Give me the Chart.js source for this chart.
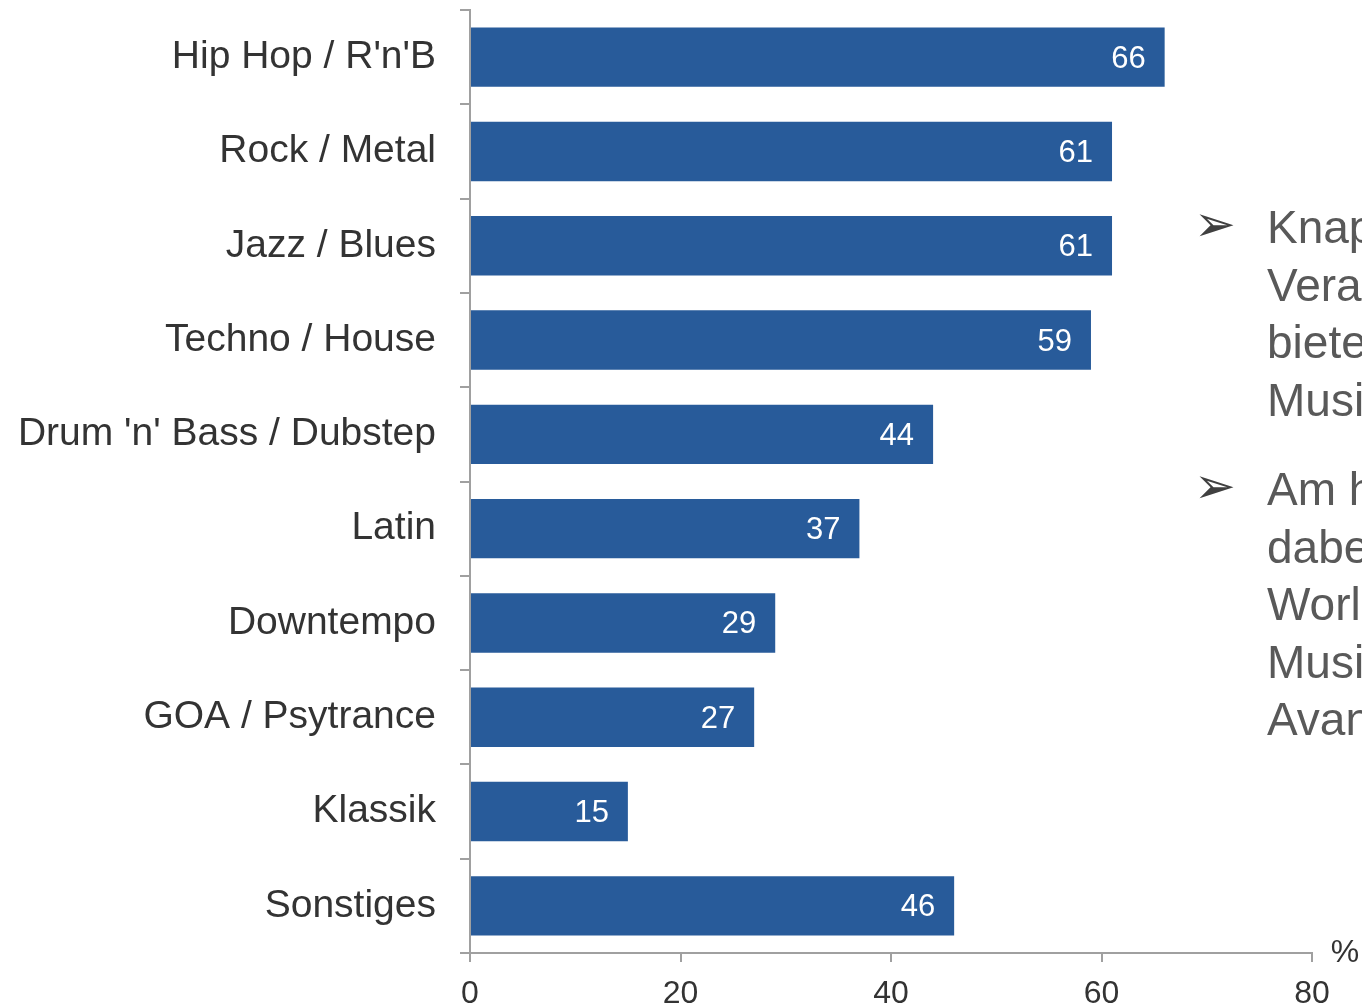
<!DOCTYPE html>
<html lang="de">
<head>
<meta charset="utf-8">
<title>Musikrichtungen</title>
<script src="https://cdn.jsdelivr.net/npm/chart.js@4/dist/chart.umd.min.js"></script>
<style>
  html, body { margin: 0; padding: 0; background: #fff; overflow: hidden; }
  #wrap { position: relative; width: 1362px; height: 1006px; overflow: hidden; }
  #genreChart { position: absolute; left: 0; top: 0; }
  .note { position: absolute; left: 1198px; font-family: "Liberation Sans", Arial, sans-serif;
          font-size: 46px; line-height: 57.5px; color: #595959; white-space: nowrap; }
  .note .arrow { position: absolute; left: -4px; top: -3px; font-family: "DejaVu Sans", sans-serif;
                 font-size: 50px; color: #404040; }
  .note .txt { position: absolute; left: 69px; top: 0; }
</style>
</head>
<body>
<div id="wrap">
  <canvas id="genreChart" width="1362" height="1006"></canvas>
  <div class="note" style="top:199px"><span class="arrow">➢</span><span class="txt">Knapp die Hälfte der<br>Veranstalter<br>bieten elektronische<br>Musik an</span></div>
  <div class="note" style="top:461px"><span class="arrow">➢</span><span class="txt">Am häufigsten sind<br>dabei Genres wie<br>World Music,<br>Musical und<br>Avantgarde</span></div>
</div>
<script>
// Musikrichtungen in %
const genres = [
  "Hip Hop / R'n'B",
  "Rock / Metal",
  "Jazz / Blues",
  "Techno / House",
  "Drum 'n' Bass / Dubstep",
  "Latin",
  "Downtempo",
  "GOA / Psytrance",
  "Klassik",
  "Sonstiges"
];
const shares = [66, 61, 61, 59, 44, 37, 29, 27, 15, 46];
const xTicks = [0, 20, 40, 60, 80];

const barColor = "#285B9A";
const axisColor = "#a0a0a0";
const textColor = "#333333";
const fontFamily = "'Liberation Sans', Arial, sans-serif";

// Werte weiß ins Balkenende schreiben, dazu das %-Zeichen an der x-Achse
const valueLabels = {
  id: "valueLabels",
  afterDatasetsDraw(chart) {
    const ctx = chart.ctx;
    const meta = chart.getDatasetMeta(0);
    ctx.save();
    ctx.font = "31px " + fontFamily;
    ctx.fillStyle = "#ffffff";
    ctx.textAlign = "right";
    ctx.textBaseline = "middle";
    meta.data.forEach((bar, i) => {
      ctx.fillText(String(shares[i]), bar.x - 19, bar.y + 2);
    });
    ctx.font = "32px " + fontFamily;
    ctx.fillStyle = textColor;
    ctx.textAlign = "center";
    ctx.fillText("%", chart.chartArea.right + 33, chart.chartArea.bottom);
    ctx.restore();
  }
};

const ctx = document.getElementById("genreChart").getContext("2d");
new Chart(ctx, {
  type: "bar",
  data: {
    labels: genres,
    datasets: [{
      data: shares,
      backgroundColor: barColor,
      borderWidth: 0,
      barPercentage: 0.63,
      categoryPercentage: 1
    }]
  },
  plugins: [valueLabels],
  options: {
    indexAxis: "y",
    responsive: false,
    animation: false,
    layout: { padding: { top: 10, right: 50, left: 0, bottom: 0 } },
    plugins: {
      legend: { display: false },
      tooltip: { enabled: false }
    },
    scales: {
      y: {
        afterFit(scale) {
          scale.width = 470;
          scale.paddingTop = 0;
          scale.paddingBottom = 0;
        },
        grid: {
          offset: true,
          drawOnChartArea: false,
          drawTicks: true,
          tickLength: 10,
          color: axisColor,
          lineWidth: 2
        },
        border: { display: true, color: axisColor, width: 2 },
        ticks: {
          color: textColor,
          padding: 24,
          font: { family: fontFamily, size: 39 }
        }
      },
      x: {
        min: 0,
        max: 80,
        afterFit(scale) {
          scale.height = 53;
          scale.paddingRight = 0;
          scale.paddingLeft = 0;
        },
        afterBuildTicks(scale) { scale.ticks = xTicks.map(v => ({ value: v })); },
        grid: {
          drawOnChartArea: false,
          drawTicks: true,
          tickLength: 9,
          color: axisColor,
          lineWidth: 2
        },
        border: { display: true, color: axisColor, width: 2 },
        ticks: {
          color: textColor,
          padding: 13,
          maxRotation: 0,
          font: { family: fontFamily, size: 32 }
        }
      }
    }
  }
});
</script>
</body>
</html>
